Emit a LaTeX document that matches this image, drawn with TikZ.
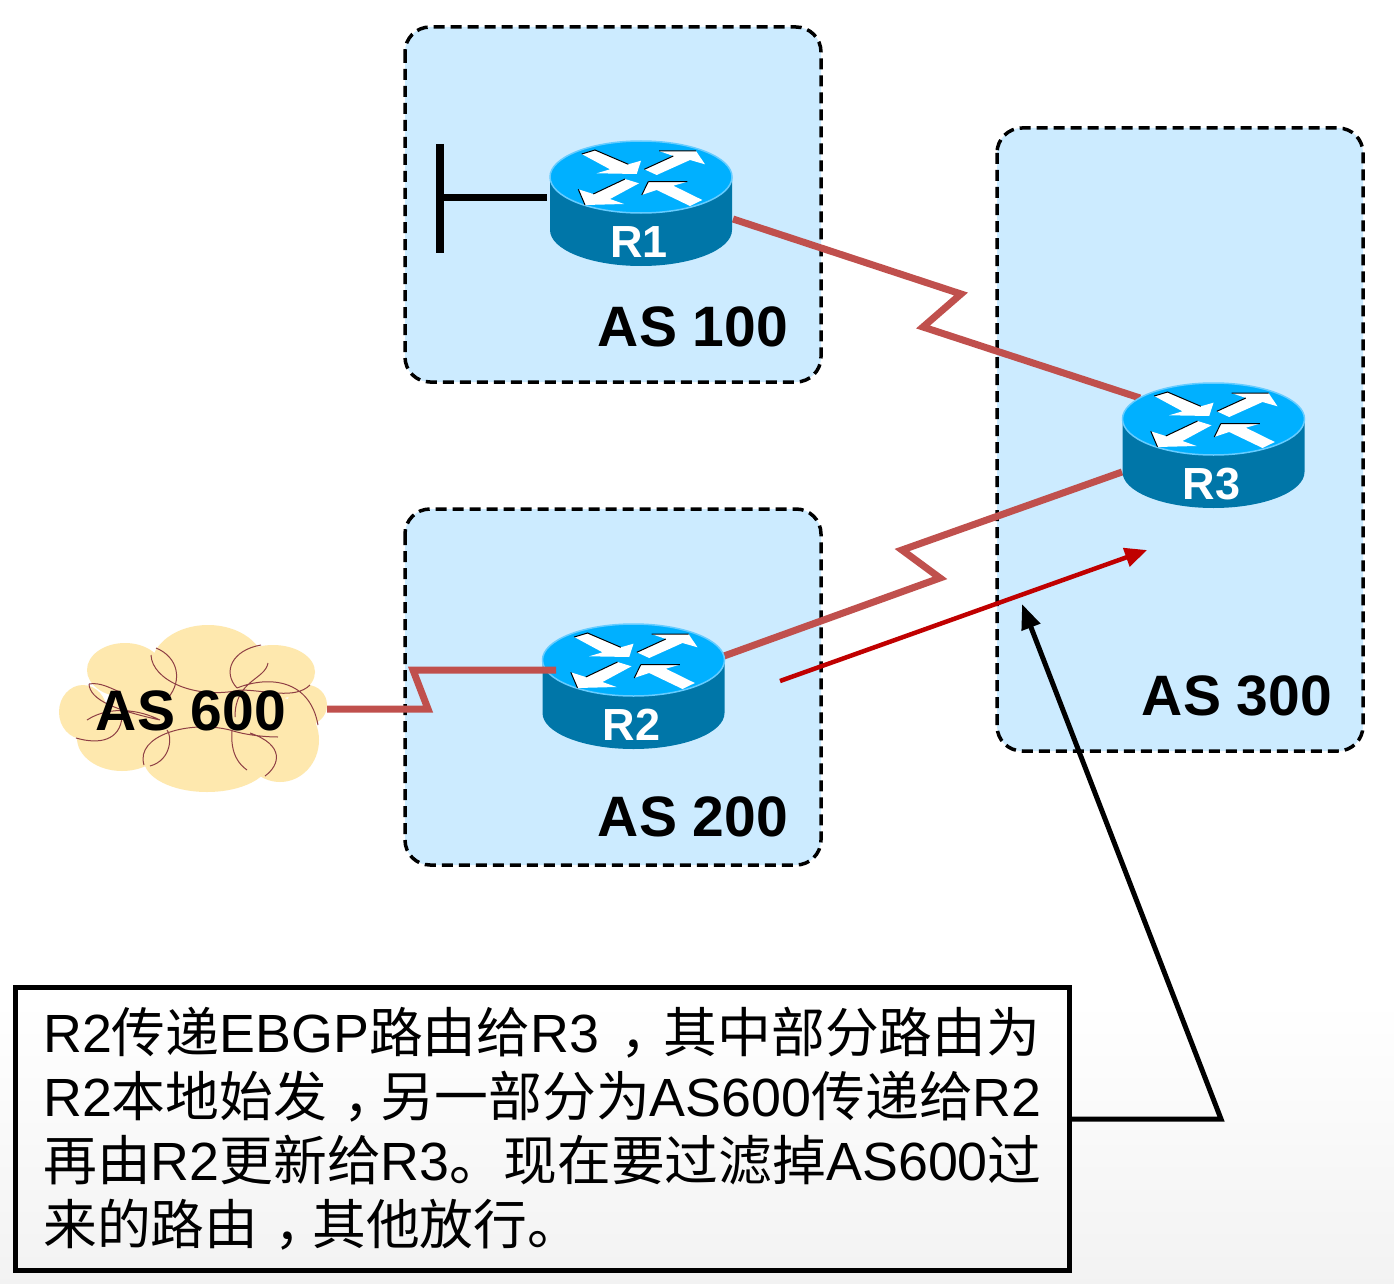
\documentclass[tikz,border=0pt]{standalone}
\usepackage{fontspec}
\setmainfont{Liberation Sans}
\newfontfamily\cjk{Noto Sans CJK SC}
\usetikzlibrary{arrows.meta}
\definecolor{asblue}{HTML}{CCEBFF}
\definecolor{topblue}{HTML}{00B0FF}
\definecolor{sideblue}{HTML}{0076A8}
\definecolor{rimblue}{HTML}{66CCFF}
\definecolor{linkred}{HTML}{C0504D}
\definecolor{updred}{HTML}{C00000}
\definecolor{cloudy}{HTML}{FEE8AE}
\definecolor{wisp}{HTML}{8E3F45}
\newcommand{\zh}[1]{{\cjk #1}}
\newcommand{\zhcomma}{\makebox[1em][l]{\hspace{0.3em}\zh{，}}}
\tikzset{
  asbox/.style={draw=black,line width=3.5pt,dash pattern=on 11pt off 6pt,fill=asblue,rounded corners=25pt},
  aslabel/.style={font=\fontsize{57}{60}\selectfont\bfseries,inner sep=0pt},
  rlabel/.style={font=\fontsize{45}{48}\selectfont\bfseries,text=white,inner sep=0pt},
  link/.style={draw=linkred,line width=7pt,line join=miter},
}
% one router, top ellipse centred on (#1,#2)
\newcommand{\drawrouter}[3]{
\begin{scope}[shift={(#1,#2)}]
\fill[sideblue] (-91,0) -- (-91,53) arc[start angle=180,end angle=0,x radius=91,y radius=36] -- (91,0) -- cycle;
\filldraw[fill=topblue,draw=rimblue,line width=1.5pt] (0,0) ellipse[x radius=91,y radius=36];
\fill[white] (-59.3,-23) -- (-46,-27) -- (-12.7,-12.7) -- (0,-16.3) -- (-4.3,-3) -- (-44.3,-3.7) -- (-31,-7.7) -- cycle;
\fill[white] (3.3,-7.7) -- (32.3,-21) -- (18,-26) -- (55,-26) -- (64,-12.7) -- (49,-17) -- (15.7,-2) -- cycle;
\fill[white] (-2,6.3) -- (-16,2) -- (-47.7,17) -- (-62.7,12.3) -- (-56,28) -- (-17,27) -- (-31,22) -- cycle;
\fill[white] (61.3,23) -- (32.3,8.7) -- (46.3,4.7) -- (7.3,4.7) -- (0.7,18) -- (15.7,13) -- (49,29) -- cycle;
\draw[black,line width=1pt] (-59.3,-23) -- (-46,-27) -- (-12.7,-12.7);
\draw[black,line width=1pt] (3.3,-7.7) -- (32.3,-21) (18,-26) -- (55,-26);
\draw[black,line width=1pt] (-16,2) -- (-47.7,17) (-62.7,12.3) -- (-56,28);
\draw[black,line width=1pt] (7.3,4.7) -- (46.3,4.7) (7.3,4.7) -- (0.7,18);
\node[rlabel] (#3) at (-2,65) {#3};
\end{scope}
}
\begin{document}
\begin{tikzpicture}[x=1pt,y=-1pt]
\useasboundingbox (0,0) rectangle (1394,1284);
\fill[white] (0,0) rectangle (1394,1284);
\shade[top color=white,bottom color=black!5] (0,1000) rectangle (1394,1284);

\draw[asbox] (405,27) rectangle (821,382);
\draw[asbox] (405,509) rectangle (821,865);
\draw[asbox] (997,128) rectangle (1363,751);

% cloud
\fill[cloudy] (208,667) ellipse[x radius=57,y radius=42];
\fill[cloudy] (125,670) ellipse[x radius=38,y radius=27];
\fill[cloudy] (83,712) ellipse[x radius=24,y radius=27];
\fill[cloudy] (122,738) ellipse[x radius=45,y radius=33];
\fill[cloudy] (273,672) ellipse[x radius=42,y radius=27];
\fill[cloudy] (307,705) ellipse[x radius=20,y radius=20];
\fill[cloudy] (280,740) ellipse[x radius=39,y radius=42];
\fill[cloudy] (207,760) ellipse[x radius=63,y radius=32];
\fill[cloudy] (200,715) ellipse[x radius=90,y radius=50];
\draw[wisp,line width=1pt]
  (156,648) .. controls (178,657) and (183,680) .. (168,698)
  (151,655) .. controls (152,680) and (195,700) .. (240,690)
  (261,645) .. controls (232,650) and (222,672) .. (237,688)
  (268,663) .. controls (265,680) and (235,680) .. (235,717)
  (237,688) .. controls (270,675) and (310,680) .. (318,725)
  (310,685) .. controls (295,700) and (265,690) .. (240,690)
  (89,684) .. controls (90,700) and (115,710) .. (160,720)
  (89,684) .. controls (100,682) and (110,688) .. (120,692)
  (87,720) .. controls (110,705) and (140,710) .. (160,720)
  (76,738) .. controls (100,745) and (120,740) .. (122,717)
  (150,766) .. controls (172,760) and (172,735) .. (167,730)
  (144,765) .. controls (135,735) and (190,720) .. (230,730) .. controls (245,735) and (265,737) .. (278,737)
  (232,730) .. controls (230,755) and (240,765) .. (247,770)
  (250,733) .. controls (285,745) and (280,765) .. (265,776);
\node[aslabel] (as600) at (191,711) {AS 600};

% link ends and knees
\coordinate (r1stub) at (547,198);
\coordinate (stub) at (440,198);
\coordinate (stubtop) at (440,144);
\coordinate (stubbot) at (440,253);
\coordinate (r1out) at (733,219);
\coordinate (kneea) at (961,294);
\coordinate (kneeb) at (923,327);
\coordinate (r3in) at (1140,398);
\coordinate (r2out) at (724,656);
\coordinate (kneec) at (940,578);
\coordinate (kneed) at (902,550);
\coordinate (r3low) at (1122,472);
\coordinate (cloudout) at (327,709);
\coordinate (kneee) at (428,709);
\coordinate (kneef) at (413,670);
\coordinate (r2in) at (556,670);

\draw[link] (r1out) -- (kneea) -- (kneeb) -- (r3in);
\draw[link] (r2out) -- (kneec) -- (kneed) -- (r3low);
\draw[line width=8pt] (stubtop) -- (stubbot);
\draw[line width=7pt] (stub) -- (r1stub);

\drawrouter{641}{177}{R1}
\drawrouter{633.5}{660}{R2}
\drawrouter{1213.5}{419}{R3}
\draw[link] (cloudout) -- (kneee) -- (kneef) -- (r2in);

\node[aslabel] (as100) at (693,327) {AS 100};
\node[aslabel] (as200) at (693,817) {AS 200};
\node[aslabel] (as300) at (1237,696) {AS 300};

% update arrow
\coordinate (updfrom) at (780,681);
\coordinate (updto) at (1147,550);
\draw[updred,line width=4.5pt,-{Triangle[length=22pt,width=19pt]}] (updfrom) -- (updto);

% note with its pointer
\node[draw=black,line width=5pt,minimum width=1054pt,minimum height=283pt,inner sep=0pt] (notebox) at (542,1128.5) {};
\node[anchor=west,inner sep=0pt,align=left,font=\fontsize{53.8}{64}\selectfont] (note) at (43,1129) {%
\makebox[997pt][s]{R2\zh{传递}EBGP\zh{路由给}R3\hfill\zhcomma\hfill\zh{其中部分路由为}}\\
\makebox[997pt][s]{R2\zh{本地始发}\zhcomma\zh{另一部分为}AS600\zh{传递给}R2}\\
\makebox[997pt][s]{\zh{再由}R2\zh{更新给}R3\zh{。现在要过滤掉}AS600\zh{过}}\\
\zh{来的路由}\zhcomma\zh{其他放行。}};
\coordinate (elbow) at (1221,1119);
\coordinate (ptrtip) at (1022,604);
\draw[line width=5pt,line join=miter,-{Triangle[length=25pt,width=19pt]}] (notebox.east |- elbow) -- (elbow) -- (ptrtip);
\end{tikzpicture}
\end{document}
